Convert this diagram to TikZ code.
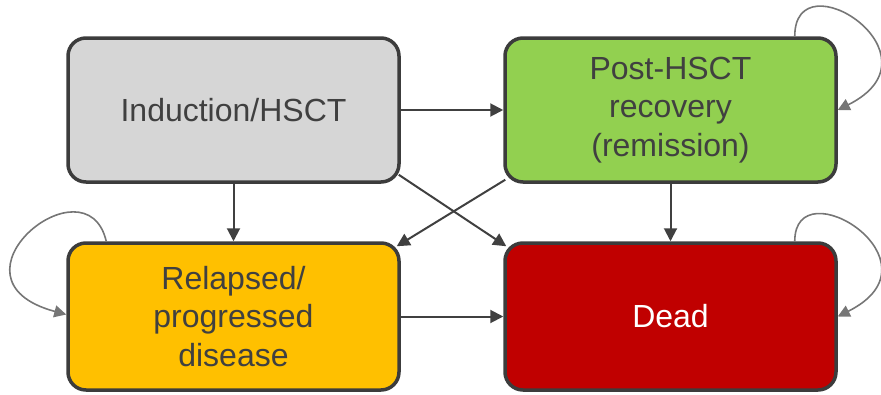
\documentclass[tikz,border=0pt]{standalone}
\usepackage{fontspec}
\setmainfont{Liberation Sans}
\usetikzlibrary{arrows.meta, calc}
\definecolor{boxline}{HTML}{3C3C3C}
\definecolor{txtgray}{HTML}{404040}
\definecolor{loopgray}{HTML}{767676}
\definecolor{indfill}{HTML}{D6D6D6}
\definecolor{postfill}{HTML}{92D050}
\definecolor{relfill}{HTML}{FFC000}
\definecolor{deadfill}{HTML}{C00000}

\begin{document}
\begin{tikzpicture}[x=1pt,y=-1pt]
		\tikzstyle{box} = [draw=boxline, line width=3.5pt, rounded corners=18pt, align=center, text=txtgray, font=\fontsize{32}{38.5}\selectfont]
		\tikzstyle{arr} = [draw=txtgray, line width=2pt, -{Triangle[length=13pt,width=13pt]}]
		\tikzstyle{selfloop} = [draw=loopgray, line width=1.6pt, -{Triangle[length=12pt,width=12pt]}]
		\useasboundingbox (0,0) rectangle (881,394);
		% states
		\node[box, fill=indfill, minimum width=331pt, minimum height=144pt] (ind) at (233.5,110) {Induction/HSCT};
		\node[box, fill=postfill, minimum width=331pt, minimum height=144pt] (post) at (670.5,110) {Post-HSCT\\recovery\\(remission)};
		\node[box, fill=relfill, minimum width=331pt, minimum height=147pt] (rel) at (233.5,316.5) {Relapsed/\\progressed\\disease};
		\node[box, fill=deadfill, text=white, minimum width=331pt, minimum height=147pt] (dead) at (670.5,316.5) {Dead};
		% transitions
		\draw[arr] (ind) -- (post);
		\draw[arr] (ind) -- (rel); \draw[arr] (post) -- (dead);
		\draw[arr] (rel) -- (dead);
		\draw[arr] ($(ind.south east)+(-2,-9)$) -- ($(dead.north west)+(3,5)$);
		\draw[arr] ($(post.south west)+(2,-4)$) -- ($(rel.north east)+(-4,5)$);
		% staying in the same state
		\draw[selfloop] ([xshift=-43pt]post.north east) .. controls +(0,-80) and +(110,-55) .. (post.east);
		\draw[selfloop] ([xshift=-43pt]dead.north east) .. controls +(0,-75) and +(110,-55) .. (dead.east);
		\draw[selfloop] ([xshift=40pt]rel.north west) .. controls +(-20,-85) and +(-130,-35) .. ([yshift=2pt]rel.west);
\end{tikzpicture}
\end{document}
